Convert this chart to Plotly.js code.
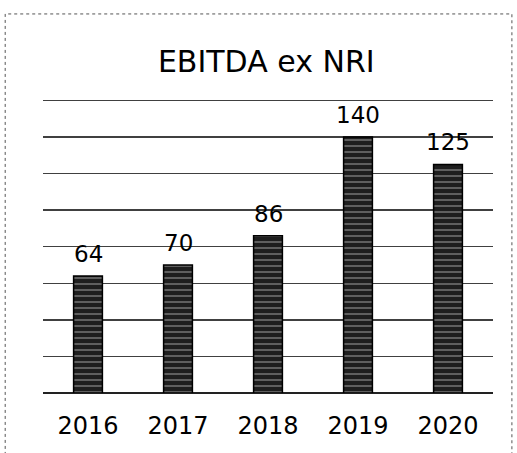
<!DOCTYPE html>
<html><head><meta charset="utf-8">
<script src="https://cdn.plot.ly/plotly-3.0.1.min.js"></script>
<style>html,body{margin:0;padding:0;background:#fff;}#chart{width:517px;height:453px;}</style>
</head><body><div id="chart"></div>
<script>
const years = [2016, 2017, 2018, 2019, 2020];
const ebitda = [64, 70, 86, 140, 125];
const chartTitle = 'EBITDA ex NRI';

const font = 'DejaVu Sans, Verdana, sans-serif';
const trace = {
  type: 'bar', x: years, y: ebitda,
  marker: {color: '#1e1e1e', line: {color: '#000', width: 1.5},
           pattern: {shape: '-', fgcolor: '#8a8a8a', bgcolor: '#1e1e1e', size: 6, solidity: 0.2}},
  hoverinfo: 'skip'
};
const annotations = years.map((yr, i) => ({
  x: yr, y: ebitda[i], xref: 'x', yref: 'y', text: String(ebitda[i]),
  showarrow: false, yanchor: 'bottom', yshift: 7,
  font: {family: font, size: 23, color: '#000'}
}));
const layout = {
  width: 517, height: 453,
  margin: {l: 43, r: 24, t: 95, b: 60},
  paper_bgcolor: '#fff', plot_bgcolor: '#fff',
  bargap: 0.68,
  title: {text: chartTitle, font: {family: font, size: 30, color: '#000'}, x: 0.515, xanchor: 'center', y: 0.865, yanchor: 'middle'},
  xaxis: {range: [2015.5, 2020.5], tickmode: 'array', tickvals: years, ticktext: years.map(String), tickfont: {family: font, size: 24, color: '#000'}, ticklabelstandoff: 16, showline: false, showgrid: false, zeroline: false, ticks: ''},
  yaxis: {range: [0, 163], tickmode: 'linear', tick0: 0, dtick: 20, showticklabels: false, showgrid: true, gridcolor: '#404040', gridwidth: 1.5, zeroline: true, zerolinecolor: '#222', zerolinewidth: 1.5, showline: false, ticks: ''},
  showlegend: false,
  annotations: annotations,
  shapes: [{type: 'rect', xref: 'paper', yref: 'paper', x0: -0.084, x1: 1.042, y0: -0.22, y1: 1.272, line: {color: '#555', width: 1, dash: 'dot'}}]
};
Plotly.newPlot('chart', [trace], layout, {displayModeBar: false, staticPlot: true});
</script></body></html>
